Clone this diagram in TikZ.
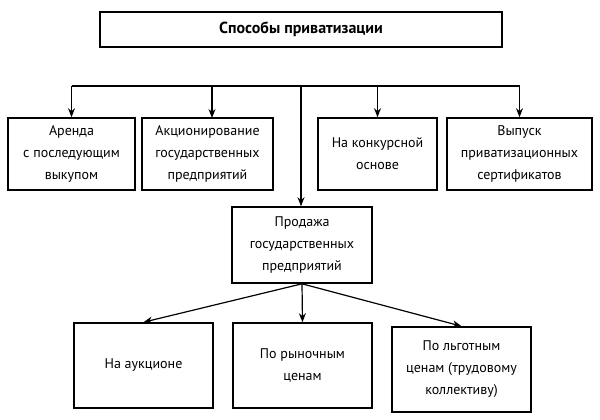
\documentclass[tikz,border=0pt]{standalone}
\usepackage{fontspec}
\setmainfont{PT Sans}
\usetikzlibrary{shapes,arrows,arrows.meta,positioning}

\begin{document}
\begin{tikzpicture}[x=1pt,y=-1pt,
	box/.style={draw,line width=1.6pt,align=center,inner sep=2pt,font=\fontsize{14}{22}\selectfont},
	tip/.style={-{Stealth[length=9pt,width=7pt]}},
	every edge/.style={draw,line width=1.2pt}]
	\useasboundingbox (0,0) rectangle (600,420);
	\node[box,minimum width=402,minimum height=35,font=\bfseries\fontsize{16}{18}\selectfont] (top) at (301,29.5) {Способы приватизации};
	
	\node[box,minimum width=127,minimum height=72] (lease) at (71.5,154) {Аренда\\с последующим\\выкупом};
	\node[box,minimum width=131,minimum height=72] (shares) at (207.5,154) {Акционирование\\государственных\\предприятий};
	\node[box,minimum width=119,minimum height=72] (contest) at (377.5,154) {На конкурсной\\основе};
	\node[box,minimum width=145,minimum height=72] (vouchers) at (519.5,154) {Выпуск\\приватизационных\\сертификатов};
	
	\node[box,minimum width=140,minimum height=76] (sale) at (302,245) {Продажа\\государственных\\предприятий};
	
	\node[box,minimum width=139,minimum height=85] (auction) at (143.5,365.5) {На аукционе};
	\node[box,minimum width=139,minimum height=85] (market) at (302.5,365.5) {По рыночным\\ценам};
	\node[box,minimum width=139,minimum height=85] (staff) at (461.5,369.5) {По льготным\\ценам (трудовому\\коллективу)};
	
	% branch line under the title
	\coordinate (busL) at (71.5,86);
	\coordinate (busR) at (519.5,86);
	\coordinate (busM) at (301,86);
	\coordinate (sharesIn) at (212,118);
	\path [-] (busL) edge (busR);
	
	\path [tip] (lease.north |- busL) edge (lease.north);
	\path [tip] (sharesIn |- busL) edge (sharesIn);
	\path [tip] (contest.north |- busL) edge (contest.north);
	\path [tip] (vouchers.north |- busL) edge (vouchers.north);
	\path [tip] (busM) edge (busM |- sale.north);
	
	\path [tip] (sale.south) edge (auction.north);
	\path [tip] (sale.south) edge (market.north);
	\path [tip] (sale.south) edge (staff.north);
\end{tikzpicture}
\end{document}
